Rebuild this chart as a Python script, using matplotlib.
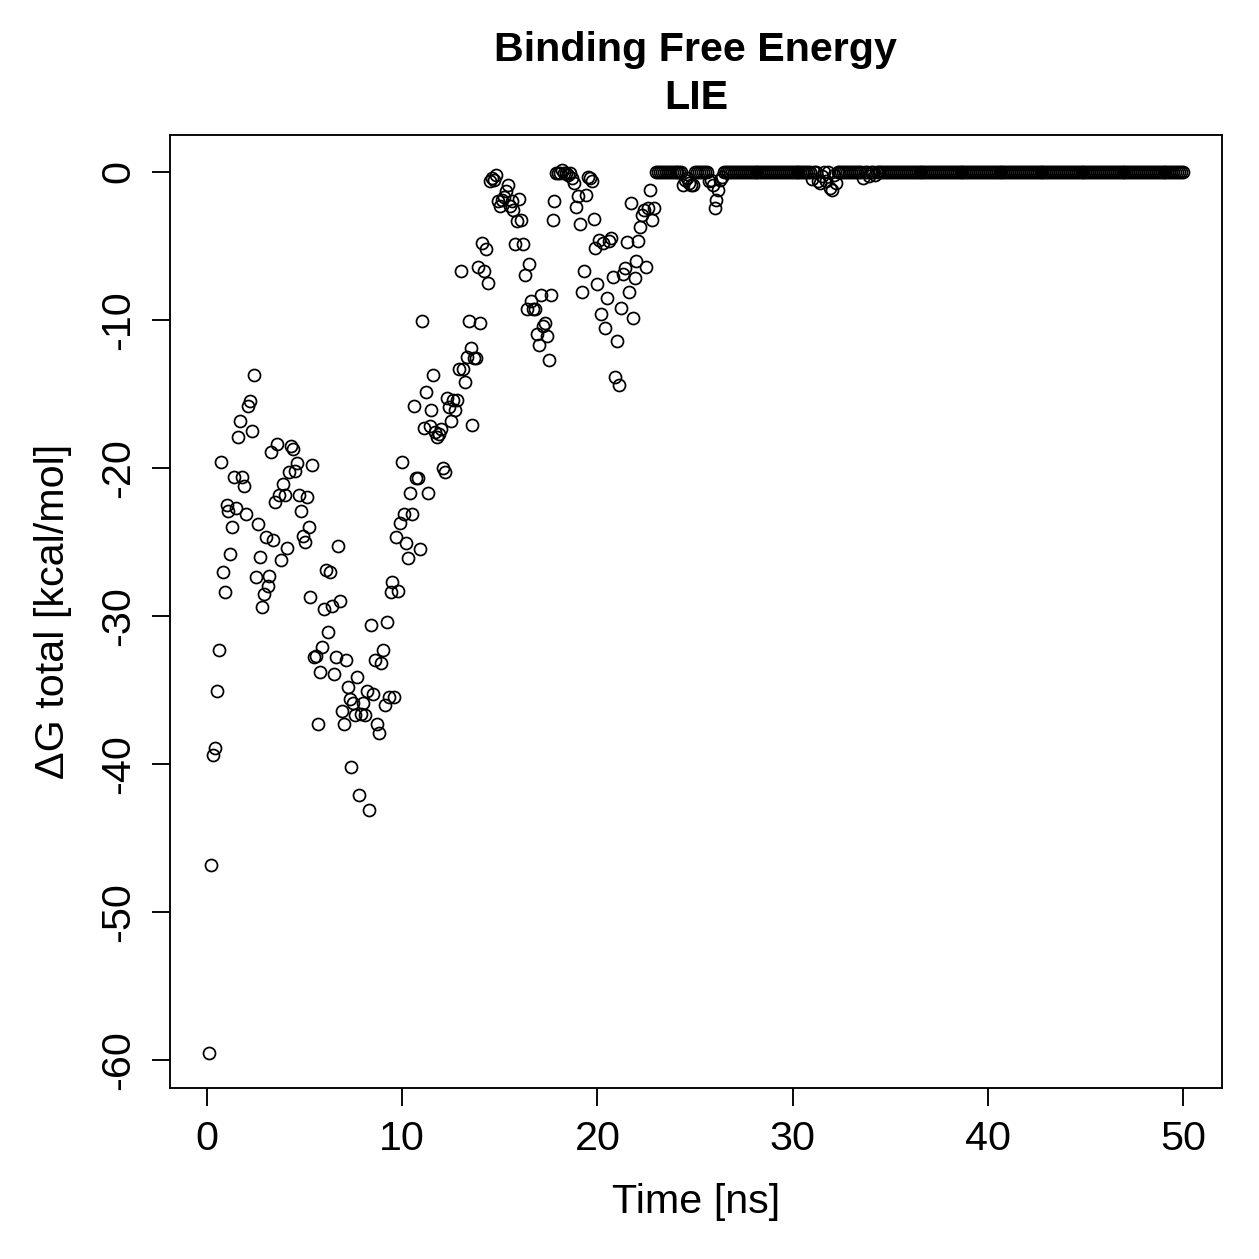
import numpy as np
import matplotlib
matplotlib.use("Agg")
import matplotlib.pyplot as plt

plt.rcParams['font.family'] = ['Liberation Sans', 'DejaVu Sans']
plt.rcParams['axes.unicode_minus'] = False

# dG total [kcal/mol], one frame every 0.1 ns (0.1 .. 22.9 ns)
dg_early = [
    -59.5, -46.8, -39.4, -38.9, -35.1, -32.3, -19.6, -27.0, -28.4, -22.5,
    -22.9, -25.8, -24.0, -20.6, -22.7, -17.9, -16.8, -20.6, -21.2, -23.1,
    -15.8, -15.5, -17.5, -13.7, -27.4, -23.8, -26.0, -29.4, -28.5, -24.7,
    -28.0, -27.3, -18.9, -24.9, -22.3, -18.4, -21.8, -26.2, -21.1, -21.8,
    -25.4, -20.3, -18.5, -18.7, -20.2, -19.7, -21.8, -22.9, -24.6, -25.0,
    -22.0, -24.0, -28.7, -19.8, -32.8, -32.7, -37.3, -33.8, -32.1, -29.5,
    -26.9, -31.1, -27.0, -29.3, -33.9, -32.8, -25.3, -29.0, -36.4, -37.3,
    -33.0, -34.8, -35.6, -40.2, -35.9, -36.7, -34.1, -42.1, -36.6, -35.9,
    -36.7, -35.1, -43.1, -30.6, -35.3, -33.0, -37.3, -37.9, -33.2, -32.3,
    -36.0, -30.4, -35.5, -28.4, -27.7, -35.5, -24.7, -28.3, -23.7, -19.6,
    -23.1, -25.1, -26.1, -21.7, -23.1, -15.8, -20.7, -20.7, -25.5, -10.1,
    -17.3, -14.9, -21.7, -17.2, -16.1, -13.7, -17.6, -17.9, -17.7, -17.4,
    -20.0, -20.3, -15.3, -15.9, -16.8, -15.4, -16.1, -15.4, -13.3, -6.7,
    -13.3, -14.2, -12.5, -10.1, -11.9, -17.1, -12.6, -12.6, -6.4, -10.2,
    -4.8, -6.7, -5.2, -7.5, -0.65, -0.43, -0.54, -0.2, -2.0, -2.34,
    -1.9, -1.67, -1.33, -0.88, -2.34, -2.0, -2.56, -4.86, -3.35, -1.84,
    -3.24, -4.86, -7.0, -9.3, -6.2, -8.7, -9.3, -9.3, -10.95, -11.7,
    -8.3, -10.4, -10.2, -11.1, -12.7, -8.3, -3.24, -2.0, -0.1, -0.05,
    -0.1, 0.1, -0.1, -0.05, -0.2, -0.1, -0.43, -0.76, -2.4, -1.65,
    -3.5, -8.1, -6.7, -1.55, -0.32, -0.4, -0.65, -3.2, -5.15, -7.6,
    -4.6, -9.6, -4.8, -10.55, -8.5, -4.7, -4.45, -7.1, -13.85, -11.4,
    -14.4, -9.2, -6.9, -6.5, -4.77, -8.1, -2.1, -9.9, -7.2, -6.0,
    -4.7, -3.7, -2.9, -2.56, -6.4, -2.45, -1.2, -3.24, -2.45,
]

# after ~23 ns the values sit at 0 except for these small dips
tail_dips = {
    24.4: -0.88, 24.5: -0.54, 24.6: -0.43, 24.7: -0.76, 24.8: -0.9, 24.9: -0.88,
    25.7: -0.65, 25.8: -0.54, 25.9: -0.88, 26.0: -2.45, 26.1: -1.89, 26.2: -1.21,
    26.3: -0.54, 26.4: -0.32,
    31.0: -0.5, 31.3: -0.65, 31.4: -0.76, 31.5: -0.3, 31.7: -0.6, 31.9: -1.1,
    32.0: -1.2, 32.1: -0.2, 32.2: -0.76,
    33.6: -0.4, 33.9: -0.3, 34.2: -0.2,
}
t_end = 50.0
dt = 0.1

t_early = np.round(np.arange(1, len(dg_early) + 1) * dt, 1)
t_tail = np.round(np.arange(len(dg_early) + 1, int(round(t_end / dt)) + 1) * dt, 1)
dg_tail = [tail_dips.get(float(t), 0.0) for t in t_tail]

time_ns = np.concatenate([t_early, t_tail])
dg_total = np.concatenate([dg_early, dg_tail])

fig = plt.figure(figsize=(1259 / 180, 1259 / 180), dpi=180)
ax = fig.add_axes([170 / 1259, 1 - 1088 / 1259, (1222 - 170) / 1259, (1088 - 135) / 1259])

ax.plot(time_ns, dg_total, linestyle='none', marker='o', markersize=4.8,
        markerfacecolor='none', markeredgecolor='black', markeredgewidth=0.7)

# R style 4% padding
xr = time_ns.max() - time_ns.min()
yr = dg_total.max() - dg_total.min()
ax.set_xlim(time_ns.min() - 0.04 * xr, time_ns.max() + 0.04 * xr)
ax.set_ylim(dg_total.min() - 0.04 * yr, dg_total.max() + 0.04 * yr)

fs = 16.5
ax.set_xticks([0, 10, 20, 30, 40, 50])
ax.set_yticks([0, -10, -20, -30, -40, -50, -60])
ax.tick_params(direction='out', length=7.2, width=0.75, labelsize=fs, pad=5.5)
ax.tick_params(axis='y', labelrotation=90, pad=6)
for lab in ax.get_yticklabels():
    lab.set_verticalalignment('center')
for sp in ax.spines.values():
    sp.set_linewidth(0.75)

ax.set_xlabel('Time [ns]', fontsize=fs, labelpad=10)
ax.set_ylabel('\u0394G total [kcal/mol]', fontsize=fs, labelpad=11)
ax.set_title('Binding Free Energy\nLIE', fontsize=fs, fontweight='bold',
             pad=10.5, linespacing=1.32)

fig.savefig('out.png', dpi=180)
